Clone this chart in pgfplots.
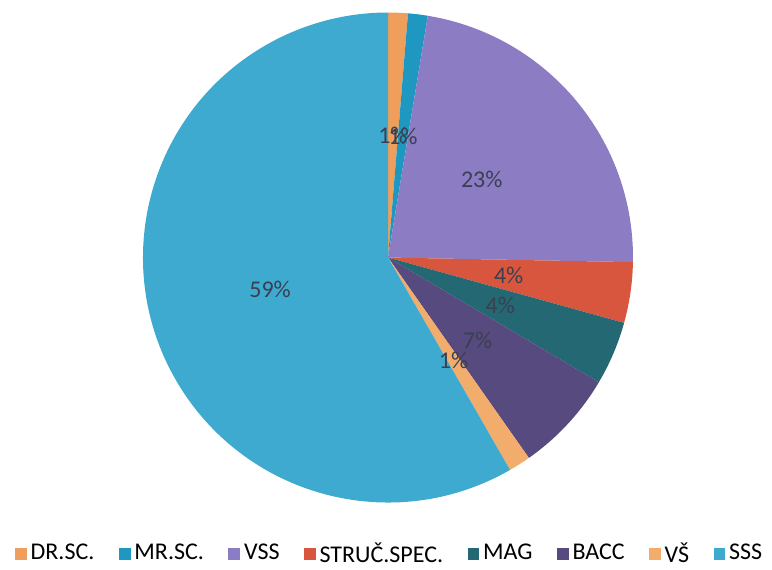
\documentclass[border=0pt]{standalone}
\usepackage{pgfplots}
\pgfplotsset{compat=1.18}
\usepackage{fontspec}
\setmainfont{Carlito}

\definecolor{cdr}{RGB}{240,158,92}
\definecolor{cmr}{RGB}{30,152,192}
\definecolor{cvss}{RGB}{140,124,196}
\definecolor{cstr}{RGB}{216,86,62}
\definecolor{cmag}{RGB}{36,104,116}
\definecolor{cbacc}{RGB}{86,74,126}
\definecolor{cvs}{RGB}{242,172,108}
\definecolor{csss}{RGB}{62,170,208}
\definecolor{labc}{RGB}{58,64,82}

\begin{document}
\begin{tikzpicture}
\begin{axis}[
  scale only axis, width=386pt, height=282.5pt,
  xmin=0, xmax=772, ymin=0, ymax=565,
  hide axis, clip=false,
  legend columns=-1,
  legend style={draw=none, fill=none, inner sep=0pt,
    at={(0.506,0.020)}, anchor=center,
    font=\fontsize{12}{14}\selectfont,
    /tikz/every even column/.append style={column sep=10.2pt}},
  legend image code/.code={\fill[#1] (0pt,-2.7pt) rectangle (5.4pt,2.7pt);},
]
% slices clockwise from the top: share in %, printed label, colour
\xdef\cum{0}
\foreach \v/\lab/\c in {1.3/1/cdr, 1.3/1/cmr, 22.7/23/cvss, 4.0/4/cstr, 4.2/4/cmag, 6.75/7/cbacc, 1.45/1/cvs, 58.3/59/csss}{
  \pgfmathsetmacro\a{90-3.6*\cum}
  \pgfmathsetmacro\b{90-3.6*(\cum+\v)}
  \edef\temp{\noexpand\fill[\c] (axis cs:388,307.5) -- ++(\a:122.5pt)
    arc[start angle=\a, end angle=\b, radius=122.5pt] -- cycle;}
  \temp
  \pgfmathparse{\cum+\v}\xdef\cum{\pgfmathresult}
}
\xdef\cum{0}
\foreach \v/\lab in {1.3/1, 1.3/1, 22.7/23, 4.0/4, 4.2/4, 6.75/7, 1.45/1, 58.3/59}{
  \pgfmathsetmacro\m{90-3.6*(\cum+\v/2)}
  \pgfmathsetmacro\lx{388+122*cos(\m)}
  \pgfmathsetmacro\ly{307.5+122*sin(\m)}
  \edef\temp{\noexpand\node[text=labc, font=\noexpand\fontsize{12}{14}\noexpand\selectfont]
    at (axis cs:\lx,\ly) {\lab\noexpand\%};}
  \temp
  \pgfmathparse{\cum+\v}\xdef\cum{\pgfmathresult}
}
\path (axis cs:0,0) rectangle (axis cs:772,565);
\addlegendimage{cdr}\addlegendentry{DR.SC.}
\addlegendimage{cmr}\addlegendentry{MR.SC.}
\addlegendimage{cvss}\addlegendentry{VSS}
\addlegendimage{cstr}\addlegendentry{STRUČ.SPEC.}
\addlegendimage{cmag}\addlegendentry{MAG}
\addlegendimage{cbacc}\addlegendentry{BACC}
\addlegendimage{cvs}\addlegendentry{VŠ}
\addlegendimage{csss}\addlegendentry{SSS}
\end{axis}
\end{tikzpicture}
\end{document}
